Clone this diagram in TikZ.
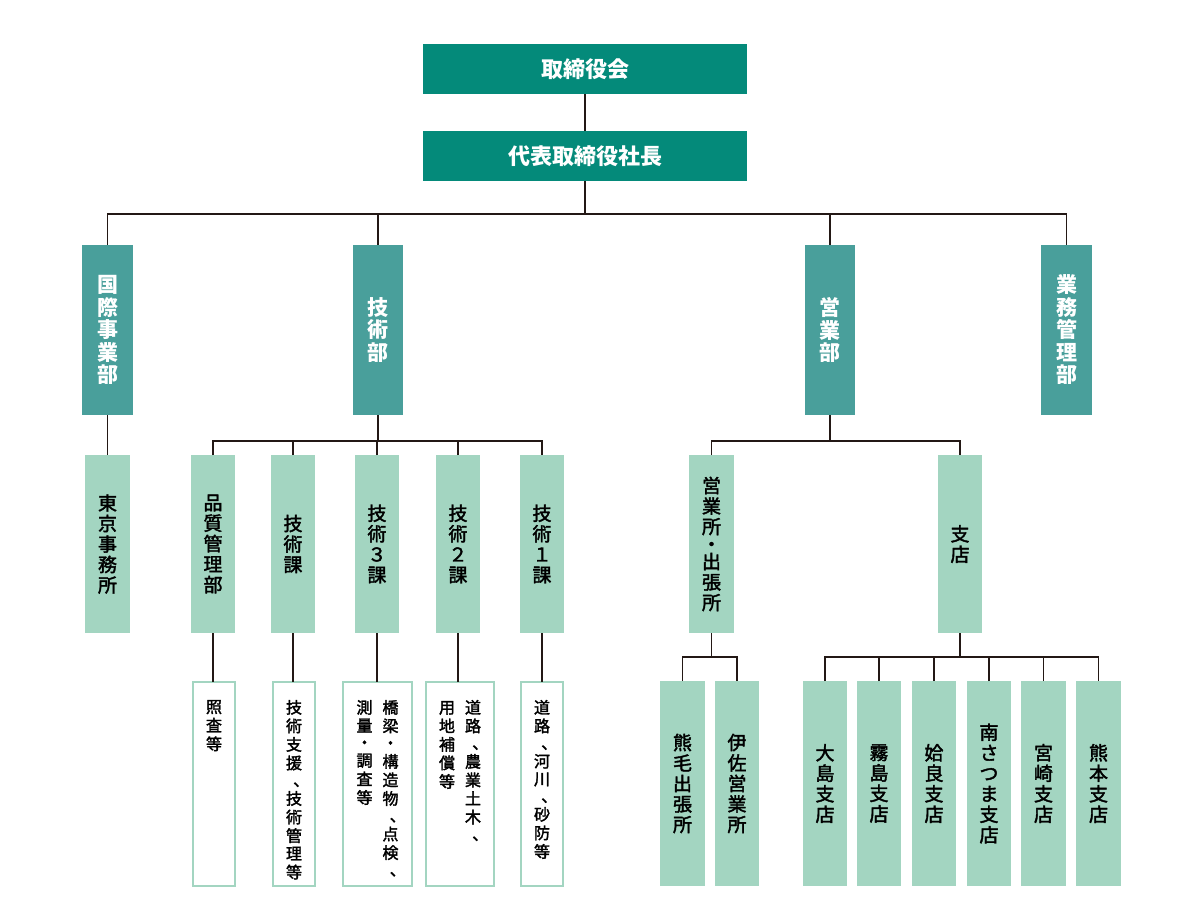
\documentclass[tikz,border=0pt]{standalone}
\usepackage{fontspec}
\setmainfont{Noto Sans CJK JP}
\newfontfamily\medfont{Noto Sans CJK JP}[FakeBold=2]
\definecolor{dk}{RGB}{4,138,122}
\definecolor{md}{RGB}{73,159,155}
\definecolor{lt}{RGB}{163,213,193}
\definecolor{ln}{RGB}{35,24,21}
\newcommand\vcol[1]{\begin{tabular}[t]{@{}c@{}}#1\end{tabular}}
\newcommand\vcm{\makebox[1em][l]{\hspace{0.45em}、}}
\newcommand\nbtext[3]{\parbox[c][204pt][t]{#1}{\vspace*{#2}\centering #3\par}}
\tikzset{
 base/.style={anchor=north west, inner sep=0pt, outer sep=0pt},
 topbox/.style={base, fill=dk, text=white, minimum width=324pt, minimum height=50pt, font=\bfseries\fontsize{22}{24}\selectfont},
 deptbox/.style={base, fill=md, text=white, minimum width=51pt, minimum height=170pt, align=center, font=\bfseries\fontsize{21}{22.5}\selectfont},
 secbox/.style={base, fill=lt, text=black, minimum width=45pt, minimum height=178pt, align=center, font=\medfont\fontsize{19}{20.5}\selectfont},
 leafbox/.style={base, fill=lt, text=black, minimum width=45pt, minimum height=205pt, align=center, font=\medfont\fontsize{19}{20.5}\selectfont},
 notebox/.style={base, draw=lt, line width=2pt, fill=white, text=black, font=\medfont\fontsize{16}{17}\selectfont},
 conn/.style={draw=ln, line width=1.2pt}
}
\begin{document}
\begin{tikzpicture}[x=1pt,y=-1pt]
\useasboundingbox (0,0) rectangle (1182,901);
% top
\node[topbox] (board) at (423,44) {取締役会};
\node[topbox] (pres) at (423,131) {代表取締役社長};
% departments
\node[deptbox] (kokusai) at (82,245) {国\\際\\事\\業\\部};
\node[deptbox, minimum width=50pt] (gijutsu) at (353,245) {技\\術\\部};
\node[deptbox, minimum width=50pt] (eigyo) at (805,245) {営\\業\\部};
\node[deptbox] (gyomu) at (1041,245) {業\\務\\管\\理\\部};
% sections
\node[secbox] (tokyo) at (85,455) {東\\京\\事\\務\\所};
\node[secbox, minimum width=44pt] (hinshitsu) at (191,455) {品\\質\\管\\理\\部};
\node[secbox, minimum width=44pt] (gika) at (271,455) {技\\術\\課};
\node[secbox, minimum width=44pt] (gthree) at (355,455) {技\\術\\３\\課};
\node[secbox, minimum width=44pt] (gtwo) at (436,455) {技\\術\\２\\課};
\node[secbox, minimum width=44pt] (gone) at (520,455) {技\\術\\１\\課};
\node[secbox] (eigyosho) at (689,455) {営\\業\\所\\[-3pt]・\\[-3pt]出\\張\\所};
\node[secbox, minimum width=44pt] (shiten) at (938,455) {支\\店};
% notes
\node[notebox] (wone) at (193,682) {\nbtext{42pt}{18pt}{\vcol{照\\査\\等}}};
\node[notebox] (wtwo) at (273,682) {\nbtext{42pt}{18pt}{\vcol{技\\術\\支\\援\\\vcm\\技\\術\\管\\理\\等}}};
\node[notebox] (wthree) at (343,682) {\nbtext{69pt}{18pt}{\vcol{測\\量\\・\\調\\査\\等}\hspace{10pt}\vcol{橋\\梁\\・\\構\\造\\物\\\vcm\\点\\検\\\vcm}}};
\node[notebox] (wfour) at (426,682) {\nbtext{68pt}{18pt}{\vcol{用\\地\\補\\償\\等}\hspace{10pt}\vcol{道\\路\\\vcm\\農\\業\\土\\木\\\vcm}}};
\node[notebox] (wfive) at (521,682) {\nbtext{42pt}{18pt}{\vcol{道\\路\\\vcm\\河\\川\\\vcm\\砂\\防\\等}}};
% leaves
\node[leafbox] (kumage) at (660,681) {熊\\毛\\出\\張\\所};
\node[leafbox, minimum width=44pt] (isa) at (715,681) {伊\\佐\\営\\業\\所};
\node[leafbox, minimum width=44pt] (oshima) at (803,681) {大\\島\\支\\店};
\node[leafbox, minimum width=44pt] (kirishima) at (857,681) {霧\\島\\支\\店};
\node[leafbox, minimum width=44pt] (aira) at (912,681) {姶\\良\\支\\店};
\node[leafbox, minimum width=44pt] (minami) at (967,681) {南\\さ\\つ\\ま\\支\\店};
\node[leafbox] (miyazaki) at (1021,681) {宮\\崎\\支\\店};
\node[leafbox] (kumamoto) at (1076,681) {熊\\本\\支\\店};
% connectors
\draw[conn] (board.south) -- (pres.north);
\path (pres.south) ++(0,33) coordinate (bone);
\draw[conn] (pres.south) -- (bone);
\draw[conn] (kokusai.north) |- (bone) -| (gyomu.north);
\draw[conn] (gijutsu.north) -- (gijutsu.north |- bone);
\draw[conn] (eigyo.north) -- (eigyo.north |- bone);
\draw[conn] (kokusai.south) -- (kokusai.south |- tokyo.north);
\path (gijutsu.south) ++(0,26) coordinate (gbus);
\draw[conn] (gijutsu.south) -- (gbus);
\draw[conn] (hinshitsu.north) |- (gbus) -| (gone.north);
\draw[conn] (gika.north) -- (gika.north |- gbus);
\draw[conn] (gthree.north) -- (gthree.north |- gbus);
\draw[conn] (gtwo.north) -- (gtwo.north |- gbus);
\path (eigyo.south) ++(0,26) coordinate (ebus);
\draw[conn] (eigyo.south) -- (ebus);
\draw[conn] (eigyosho.north) |- (ebus) -| (shiten.north);
\draw[conn] (hinshitsu.south) -- (hinshitsu.south |- wone.north);
\draw[conn] (gika.south) -- (gika.south |- wtwo.north);
\draw[conn] (gthree.south) -- (gthree.south |- wthree.north);
\draw[conn] (gtwo.south) -- (gtwo.south |- wfour.north);
\draw[conn] (gone.south) -- (gone.south |- wfive.north);
\path (eigyosho.south) ++(0,24) coordinate (obus);
\draw[conn] (eigyosho.south) -- (obus);
\draw[conn] (kumage.north) |- (obus) -| (isa.north);
\path (shiten.south) ++(0,24) coordinate (sbus);
\draw[conn] (shiten.south) -- (sbus);
\draw[conn] (oshima.north) |- (sbus) -| (kumamoto.north);
\draw[conn] (kirishima.north) -- (kirishima.north |- sbus);
\draw[conn] (aira.north) -- (aira.north |- sbus);
\draw[conn] (minami.north) -- (minami.north |- sbus);
\draw[conn] (miyazaki.north) -- (miyazaki.north |- sbus);
\end{tikzpicture}
\end{document}
